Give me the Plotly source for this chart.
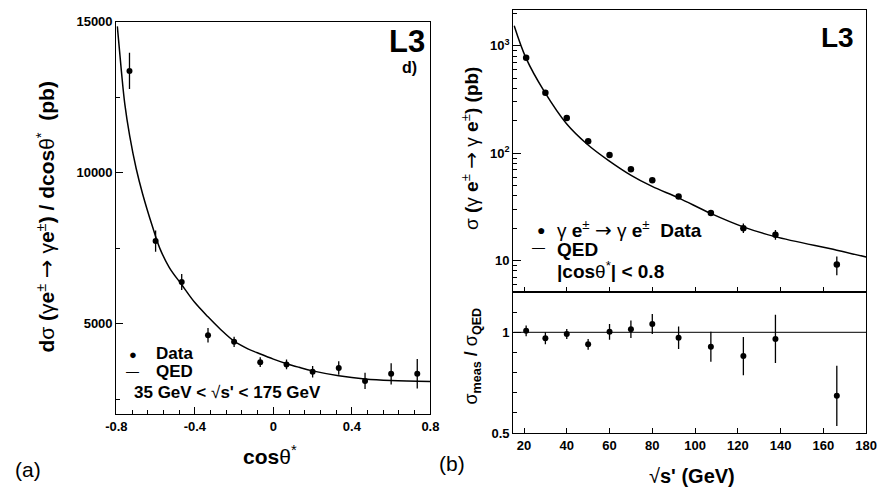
import plotly.graph_objects as go

W, H = 893, 500
FONT = "Liberation Sans, Arial, sans-serif"

# ---------------- panel (a): dsigma/dcos(theta*) ----------------
a_cos = [-0.733, -0.600, -0.467, -0.333, -0.200, -0.067, 0.067, 0.200, 0.333, 0.467, 0.600, 0.733]
a_xsec = [13365, 7734, 6378, 4616, 4401, 3728, 3654, 3408, 3536, 3109, 3343, 3343]
a_err = [600, 350, 265, 240, 170, 160, 160, 190, 220, 270, 350, 490]

a_qed_cos = [-0.795, -0.774, -0.757, -0.732, -0.699, -0.666, -0.616, -0.58, -0.53, -0.467,
             -0.40, -0.333, -0.27, -0.20, -0.13, -0.066, 0.0, 0.068, 0.13, 0.20, 0.333, 0.466, 0.60, 0.80]
a_qed = [14840, 13343, 12276, 11218, 10138, 9295, 8215, 7520, 6860, 6292,
         5700, 5230, 4820, 4424, 4170, 3997, 3830, 3677, 3560, 3440, 3280, 3173, 3119, 3087]
a_yticks = [5000, 10000, 15000]
a_yticklabels = ["5000", "10000", "15000"]
a_xticks = [-0.8, -0.4, 0, 0.4, 0.8]
a_xticklabels = ["-0.8", "-0.4", "0", "0.4", "0.8"]

# ---------------- panel (b): sigma vs sqrt(s') ----------------
b_rs = [21, 30, 40, 50, 60, 70, 80, 92.3, 107.4, 122.6, 137.6, 166.3]
b_xsec = [774, 366, 213, 129, 96, 71, 56, 39.5, 27.7, 20.0, 17.4, 9.2]
b_err_up = [0, 0, 0, 0, 0, 0, 0, 0, 1.9, 2.1, 1.9, 1.7]
b_err_dn = [0, 0, 0, 0, 0, 0, 0, 0, 1.7, 1.9, 1.8, 1.9]

b_qed_rs = [15.4, 21.05, 29.4, 39.8, 49.7, 59.6, 69.9, 79.9, 92.2, 107.3, 122.5, 137.4, 166.3, 180]
b_qed = [1538, 759, 378, 189, 120.5, 85.3, 62.5, 49, 38.4, 27.5, 20.6, 16.7, 12.5, 10.8]

b_ratio = [1.008, 0.971, 0.992, 0.941, 1.003, 1.016, 1.042, 0.974, 0.929, 0.883, 0.968, 0.685]
b_ratio_err = [0.027, 0.03, 0.025, 0.027, 0.039, 0.043, 0.05, 0.056, 0.075, 0.095, 0.12, 0.15]
ratio_ref_x = [15, 180]
ratio_ref_y = [1, 1]
b_xticks = list(range(20, 181, 20))
b_yticks = [10, 100, 1000]
b_yticklabels = ["10", "10<sup>2</sup>", "10<sup>3</sup>"]
r_yticks = [0.5, 1]
r_yticklabels = ["0.5", "1"]

fig = go.Figure()

# panel (a)
fig.add_trace(go.Scatter(x=a_qed_cos, y=a_qed, mode="lines", line=dict(color="black", width=1.5, shape="spline"),
                         xaxis="x", yaxis="y", showlegend=False, hoverinfo="skip"))
fig.add_trace(go.Scatter(x=a_cos, y=a_xsec, mode="markers", marker=dict(color="black", size=6),
                         error_y=dict(type="data", array=a_err, color="black", thickness=1.3, width=0),
                         xaxis="x", yaxis="y", showlegend=False))

# panel (b) upper
fig.add_trace(go.Scatter(x=b_qed_rs, y=b_qed, mode="lines", line=dict(color="black", width=1.5, shape="spline"),
                         xaxis="x2", yaxis="y2", showlegend=False, hoverinfo="skip"))
fig.add_trace(go.Scatter(x=b_rs, y=b_xsec, mode="markers", marker=dict(color="black", size=6.5),
                         error_y=dict(type="data", symmetric=False, array=b_err_up, arrayminus=b_err_dn,
                                      color="black", thickness=1.3, width=0),
                         xaxis="x2", yaxis="y2", showlegend=False))

# panel (b) lower
fig.add_trace(go.Scatter(x=ratio_ref_x, y=ratio_ref_y, mode="lines", line=dict(color="#333333", width=1.3),
                         xaxis="x3", yaxis="y3", showlegend=False, hoverinfo="skip"))
fig.add_trace(go.Scatter(x=b_rs, y=b_ratio, mode="markers", marker=dict(color="black", size=6),
                         error_y=dict(type="data", array=b_ratio_err, color="black", thickness=1.3, width=0),
                         xaxis="x3", yaxis="y3", showlegend=False))

tickfont = dict(family=FONT, size=13, color="black", weight="bold")
common = dict(showline=True, linecolor="black", linewidth=1.3, mirror=True, ticks="inside",
              tickcolor="black", tickwidth=1.2, showgrid=False, zeroline=False, tickfont=tickfont)

xl0, xl1 = 108 / W, 430 / W
xr0, xr1 = 515 / W, 876.7 / W

fig.update_layout(
    width=W, height=H, autosize=False,
    margin=dict(l=0, r=0, t=0, b=0),
    paper_bgcolor="white", plot_bgcolor="white",
    xaxis=dict(domain=[xl0, xl1], range=[-0.8, 0.8], tickvals=a_xticks, ticktext=a_xticklabels, ticklen=7,
               minor=dict(dtick=0.08, tick0=-0.8, ticklen=4, ticks="inside", tickcolor="black", tickwidth=1),
               anchor="y", **common),
    yaxis=dict(domain=[1 - 420 / H, 1 - 15 / H], range=[2000, 15000], tickvals=a_yticks, ticktext=a_yticklabels,
               ticklen=7, minor=dict(tickvals=[2500, 7500, 12500], ticklen=4, ticks="inside",
                                     tickcolor="black", tickwidth=1),
               anchor="x", **common),
    xaxis2=dict(domain=[xr0, xr1], range=[15, 180], tickvals=b_xticks, showticklabels=False,
                ticklen=5, anchor="y2", **common),
    yaxis2=dict(domain=[1 - 294 / H, 1 - 3.3 / H], type="log", range=[0.7055, 3.3315],
                tickvals=b_yticks, ticktext=b_yticklabels, ticklen=8,
                minor=dict(tickvals=[6, 7, 8, 9, 20, 30, 40, 50, 60, 70, 80, 90, 200, 300, 400, 500, 600, 700,
                                     800, 900, 2000], ticklen=4, ticks="inside", tickcolor="black", tickwidth=1),
                anchor="x2", **common),
    xaxis3=dict(domain=[xr0, xr1], range=[15, 180], tickvals=b_xticks, ticklen=5,
                anchor="y3", **common),
    yaxis3=dict(domain=[1 - 439.3 / H, 1 - 294 / H], range=[0.5, 1.2], tickvals=r_yticks,
                ticktext=r_yticklabels, ticklen=8,
                minor=dict(tickvals=[0.6, 0.7, 0.8, 0.9, 1.1], ticklen=4, ticks="inside",
                           tickcolor="black", tickwidth=1),
                anchor="x3", **common),
)


def ann(text, px, py, size, xanchor="center", yanchor="middle", angle=0, weight="normal"):
    fig.add_annotation(text=text, x=px / W, y=1 - py / H, xref="paper", yref="paper",
                       xanchor=xanchor, yanchor=yanchor, textangle=angle, showarrow=False,
                       font=dict(family=FONT, size=size, color="black", weight=weight))


def arrow(px):
    return "&nbsp;<span style=\"font-family:'DejaVu Sans';font-size:%dpx\">→</span>&nbsp;" % px


# axis titles
ann("<b>d</b>σ&nbsp;<b>(</b>γ<b>e</b><sup>±</sup>" + arrow(22) + "γ<b>e</b><sup>±</sup><b>)&nbsp;/&nbsp;dcos</b>θ<sup>*</sup><b>&nbsp;&nbsp;(pb)</b>",
    36, 217, 21, angle=-90)
ann("<b>cos</b>θ<sup>*</sup>", 266, 462, 21)
ann("σ&nbsp;<b>(</b>γ&nbsp;<b>e</b><sup>±</sup>" + arrow(20) + "γ&nbsp;<b>e</b><sup>±</sup><b>)&nbsp;(pb)</b>", 471, 145, 19, angle=-90)
ann("σ<sub><b>meas</b></sub><b>&nbsp;/&nbsp;</b>σ<sub><b>QED</b></sub>", 473, 360, 18, angle=-90)
ann("√<b>s' (GeV)</b>", 698, 484, 20)

# panel labels
ann("(a)", 17, 477, 21)
ann("(b)", 452, 471, 21)
ann("<b>L3</b>", 426, 36, 31, xanchor="right")
ann("<b>d)</b>", 418, 62, 16, xanchor="right")
ann("<b>L3</b>", 866, 31, 28, xanchor="right")

# legend (a)
ann("●", 125, 358, 13)
ann("<b>Data</b>", 147, 357, 17, xanchor="left")
ann("—", 125, 376, 13)
ann("<b>QED</b>", 147, 376, 17, xanchor="left")
ann("<b>35 GeV < </b>√<b>s' < 175 GeV</b>", 124, 397, 17, xanchor="left")

# legend (b)
ann("●", 543, 230, 14)
ann("γ&nbsp;<b>e</b><sup>±</sup>" + arrow(20) + "γ&nbsp;<b>e</b><sup>±</sup>&nbsp;&nbsp;<b>Data</b>", 558, 229, 19, xanchor="left")
ann("—", 541, 248, 13)
ann("<b>QED</b>", 558, 250, 19, xanchor="left")
ann("<b>|cos</b>θ<sup>*</sup><b>| < 0.8</b>", 558, 271, 19, xanchor="left")

fig.write_html("out.html")
